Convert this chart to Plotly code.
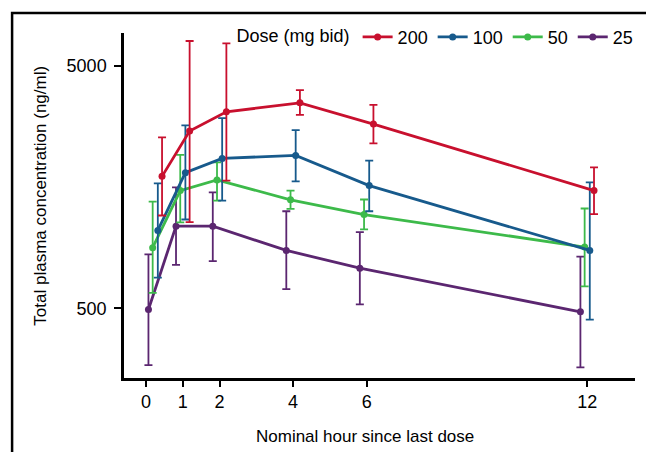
import plotly.graph_objects as go

# nominal sampling times (hours since last dose)
nominal_hours = [0.25, 1, 2, 4, 6, 12]

doses = ["25", "50", "100", "200"]

conc_200 = [1751, 2694, 3233, 3521, 2878, 1530]
upper_200 = [2535, 6339, 6200, 3972, 3455, 1908]
lower_200 = [1207, 1133, 1681, 3143, 2394, 1222]

conc_100 = [1047, 1814, 2077, 2137, 1604, 866]
upper_100 = [1639, 2840, 3047, 2719, 2032, 1655]
lower_100 = [669, 1162, 1391, 1671, 1257, 449]

conc_50 = [889, 1530, 1693, 1401, 1218, 894]
upper_50 = [1378, 2146, 2001, 1530, 1405, 1290]
lower_50 = [579, 1130, 1391, 1286, 1057, 616]

conc_25 = [494, 1091, 1091, 866, 732, 483]
upper_25 = [834, 1578, 1505, 1257, 1030, 816]
lower_25 = [291, 755, 783, 600, 519, 285]

x_ticks = [0, 1, 2, 4, 6, 12]
y_ticks = [500, 5000]

series = {
    "25": (conc_25, upper_25, lower_25),
    "50": (conc_50, upper_50, lower_50),
    "100": (conc_100, upper_100, lower_100),
    "200": (conc_200, upper_200, lower_200),
}
colors = {"200": "#c8102e", "100": "#175a8c", "50": "#3dba4a", "25": "#5b2670"}
dodge = {"200": 0.185, "100": 0.07, "50": -0.07, "25": -0.185}

FONT = "Liberation Sans, Arial, sans-serif"

fig = go.Figure()
for dose in doses:
    conc, hi, lo = series[dose]
    fig.add_trace(
        go.Scatter(
            x=[h + dodge[dose] for h in nominal_hours],
            y=conc,
            name=dose,
            mode="lines+markers",
            line=dict(color=colors[dose], width=2.8),
            marker=dict(color=colors[dose], size=7),
            error_y=dict(
                type="data",
                symmetric=False,
                array=[h - c for h, c in zip(hi, conc)],
                arrayminus=[c - l for c, l in zip(conc, lo)],
                color=colors[dose],
                thickness=1.8,
                width=4,
            ),
        )
    )

# page body adds an 8px margin, so the figure is 8px smaller than the window
fig.update_layout(
    width=646,
    height=444,
    margin=dict(l=116, r=19, t=24, b=74),
    plot_bgcolor="white",
    paper_bgcolor="white",
    font=dict(family=FONT, size=18, color="black"),
    showlegend=True,
    legend=dict(
        orientation="h",
        x=1.007,
        xanchor="right",
        y=0.985,
        yanchor="middle",
        traceorder="reversed",
        title=dict(text="Dose (mg bid)", side="left", font=dict(size=18)),
        font=dict(size=18),
        itemwidth=30,
        bgcolor="rgba(0,0,0,0)",
    ),
    annotations=[
        dict(
            text="Nominal hour since last dose",
            xref="paper", yref="paper",
            x=0.472, y=-0.1705,
            xanchor="center", yanchor="middle",
            showarrow=False,
            font=dict(size=17),
        ),
        dict(
            text="Total plasma concentration (ng/ml)",
            xref="paper", yref="paper",
            x=-0.164, y=0.529,
            xanchor="center", yanchor="middle",
            textangle=-90,
            showarrow=False,
            font=dict(size=17),
        ),
    ],
    shapes=[
        dict(
            type="rect",
            xref="paper", yref="paper",
            x0=-0.219, x1=1.025, y0=-0.3, y1=1.058,
            line=dict(color="black", width=2.5),
        )
    ],
)

fig.update_xaxes(
    range=[-0.6, 13.3],
    tickvals=x_ticks,
    showgrid=False,
    zeroline=False,
    showline=True,
    linecolor="black",
    linewidth=2.5,
    ticks="outside",
    ticklen=6,
    tickwidth=2,
    tickcolor="black",
)
fig.update_yaxes(
    type="log",
    range=[2.411, 3.835],
    tickvals=y_ticks,
    showgrid=False,
    zeroline=False,
    showline=True,
    linecolor="black",
    linewidth=2.5,
    ticks="outside",
    ticklen=7,
    tickwidth=2,
    tickcolor="black",
    ticklabelstandoff=4,
)

fig.write_html("out.html")
